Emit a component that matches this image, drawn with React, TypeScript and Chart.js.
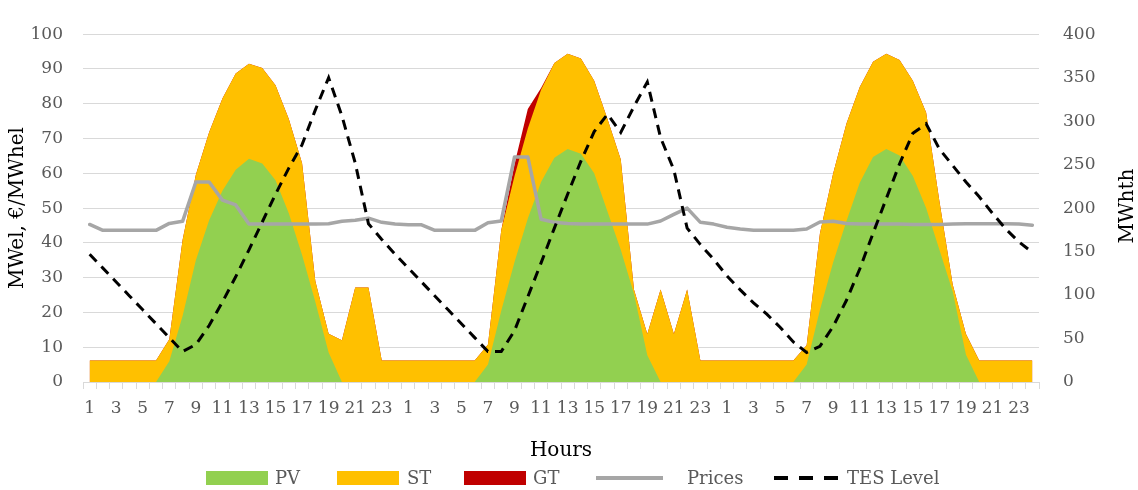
import React, { useEffect, useRef } from 'react';
import { Chart, registerables } from 'chart.js';

Chart.register(...registerables);

// ---- Data ----
const hourLabels = ['1', '2', '3', '4', '5', '6', '7', '8', '9', '10', '11', '12',
  '13', '14', '15', '16', '17', '18', '19', '20', '21', '22', '23', '24'];
const categories = [...hourLabels, ...hourLabels, ...hourLabels];

const pv = [
  0, 0, 0, 0, 0, 0, 6, 19, 35, 46.5, 55, 61, 64.2, 62.8, 58, 48.5, 36.5, 23, 8.5, 0, 0, 0, 0, 0,
  0, 0, 0, 0, 0, 0, 5, 20.5, 34.5, 47, 57.5, 64.5, 67, 65.6, 60, 49, 38, 25.3, 7.7, 0, 0, 0, 0, 0,
  0, 0, 0, 0, 0, 0, 5, 20.7, 34.4, 46.3, 57.3, 64.7, 67, 65.1, 59.2, 50, 38, 26, 7.8, 0, 0, 0, 0, 0,
];

const st = [
  6.2, 6.2, 6.2, 6.2, 6.2, 6.2, 6.3, 21.8, 24.6, 25.3, 26.5, 27.7, 27.3, 27.5, 27.3, 27.1, 26.4, 6, 5.4, 12, 27.2, 27.2, 6.2, 6.2,
  6.2, 6.2, 6.2, 6.2, 6.2, 6.2, 5.8, 23.1, 24.7, 25.9, 26.5, 27.2, 27.4, 27.4, 26.6, 26.6, 26, 1.2, 6.1, 26.6, 13.8, 26.6, 6.2, 6.2,
  6.2, 6.2, 6.2, 6.2, 6.2, 6.2, 5.6, 22, 25.6, 28, 27.5, 27.4, 27.4, 27.5, 27.4, 27.5, 14, 2, 6, 6.2, 6.2, 6.2, 6.2, 6.2,
];

const gt = [
  0, 0, 0, 0, 0, 0, 0, 0, 0, 0, 0, 0, 0, 0, 0, 0, 0, 0, 0, 0, 0, 0, 0, 0,
  0, 0, 0, 0, 0, 0, 0, 0, 3.5, 5.6, 0.5, 0, 0, 0, 0, 0, 0, 0, 0, 0, 0, 0, 0, 0,
  0, 0, 0, 0, 0, 0, 0, 0, 0, 0, 0, 0, 0, 0, 0, 0, 0, 0, 0, 0, 0, 0, 0, 0,
];

const prices = [
  45.3, 43.6, 43.6, 43.6, 43.6, 43.6, 45.6, 46.2, 57.5, 57.5, 52.3, 50.9, 45.4, 45.4, 45.4, 45.4, 45.4, 45.4, 45.5, 46.2, 46.5, 47.1, 45.9, 45.4,
  45.2, 45.2, 43.6, 43.6, 43.6, 43.6, 45.8, 46.3, 64.7, 64.7, 46.8, 45.9, 45.6, 45.4, 45.4, 45.4, 45.4, 45.4, 45.4, 46.3, 48.2, 50, 45.9, 45.4,
  44.5, 44, 43.6, 43.6, 43.6, 43.6, 44, 46, 46.2, 45.6, 45.4, 45.4, 45.4, 45.4, 45.3, 45.3, 45.3, 45.4, 45.5, 45.5, 45.5, 45.5, 45.4, 45.1,
];

const tesLevel = [
  147, 131, 115, 99, 83, 67, 51, 35, 43, 65, 92, 121, 152, 184, 216, 246, 273, 313, 350, 306, 252, 182, 164, 147,
  131, 115, 99, 83, 67, 51, 35, 35, 59, 98, 137, 177, 216, 254, 288, 308, 287, 317, 345, 281, 244, 177, 158, 141,
  122, 106, 91, 78, 63, 46, 34, 41, 64, 94, 130, 171, 211, 251, 286, 297, 268, 249, 230, 213, 194, 176, 161, 149,
];

const seriesNames = ['PV', 'ST', 'GT', 'Prices', 'TES Level'];
const seriesColors = ['#92D050', '#FFC000', '#C00000', '#A6A6A6', '#000000'];

const SERIF = '"DejaVu Serif", "Liberation Serif", serif';

const customLegend = {
  id: 'customLegend',
  afterDraw(chart: any) {
    const ctx = chart.ctx as CanvasRenderingContext2D;
    ctx.save();
    // legend
    const markerX = [206, 337, 464, 596, 774];
    const textX = [275, 407, 533, 687, 847];
    const cy = 478;
    ctx.font = `18px ${SERIF}`;
    ctx.textBaseline = 'middle';
    ctx.textAlign = 'left';
    seriesNames.forEach((name, i) => {
      const color = seriesColors[i];
      if (i < 3) {
        ctx.fillStyle = color;
        ctx.fillRect(markerX[i], cy - 7, 62, 14);
      } else {
        ctx.beginPath();
        ctx.strokeStyle = color;
        ctx.lineWidth = 4;
        ctx.lineCap = 'butt';
        ctx.setLineDash(i === 4 ? [14, 11] : []);
        ctx.moveTo(markerX[i], cy);
        ctx.lineTo(markerX[i] + (i === 4 ? 64 : 67), cy);
        ctx.stroke();
        ctx.setLineDash([]);
      }
      ctx.fillStyle = '#595959';
      ctx.fillText(name, textX[i], cy + 1);
    });
    // right axis title (reads bottom to top)
    ctx.translate(1128, 206);
    ctx.rotate(-Math.PI / 2);
    ctx.textAlign = 'center';
    ctx.fillStyle = '#000000';
    ctx.font = `20px ${SERIF}`;
    ctx.fillText('MWhth', 0, 0);
    ctx.restore();
  },
};

export default function App() {
  const ref = useRef<HTMLCanvasElement | null>(null);

  useEffect(() => {
    if (!ref.current) return;
    const chart = new Chart(ref.current, {
      type: 'line',
      data: {
        labels: categories,
        datasets: [
          {
            label: seriesNames[0], data: pv, yAxisID: 'y', stack: 'gen', order: 2,
            backgroundColor: seriesColors[0], borderWidth: 0, fill: 'origin', pointRadius: 0, tension: 0,
          },
          {
            label: seriesNames[1], data: st, yAxisID: 'y', stack: 'gen', order: 3,
            backgroundColor: seriesColors[1], borderWidth: 0, fill: 'origin', pointRadius: 0, tension: 0,
          },
          {
            label: seriesNames[2], data: gt, yAxisID: 'y', stack: 'gen', order: 4,
            backgroundColor: seriesColors[2], borderWidth: 0, fill: 'origin', pointRadius: 0, tension: 0,
          },
          {
            label: seriesNames[3], data: prices, yAxisID: 'y', stack: 'price', order: 1,
            borderColor: seriesColors[3], borderWidth: 3.5, fill: false, pointRadius: 0, tension: 0,
            borderJoinStyle: 'round', borderCapStyle: 'round',
          },
          {
            label: seriesNames[4], data: tesLevel, yAxisID: 'y1', order: 0,
            borderColor: seriesColors[4], borderWidth: 3, borderDash: [10, 7], fill: false, pointRadius: 0, tension: 0,
          },
        ],
      },
      options: {
        responsive: false,
        animation: false,
        devicePixelRatio: 1,
        layout: { padding: { top: 18, bottom: 27, left: 0, right: 0 } },
        plugins: {
          legend: { display: false },
          tooltip: { enabled: false },
        },
        scales: {
          x: {
            type: 'category',
            offset: true,
            grid: { drawOnChartArea: false, drawTicks: true, tickLength: 7, color: '#D9D9D9', offset: true },
            border: { color: '#D9D9D9' },
            ticks: {
              autoSkip: false, maxRotation: 0, minRotation: 0, padding: 9,
              color: '#595959', font: { family: SERIF, size: 17 },
              callback: (_v: any, idx: number) => (idx % 2 === 0 ? categories[idx] : ''),
            },
            title: { display: true, text: 'Hours', color: '#000000', font: { family: SERIF, size: 20 }, padding: 0 },
            afterFit: (s: any) => { s.height = 81; },
          },
          y: {
            position: 'left',
            stacked: true,
            min: 0, max: 100,
            grid: { color: '#D9D9D9', drawTicks: false },
            border: { display: false },
            ticks: { stepSize: 10, padding: 20, color: '#595959', font: { family: SERIF, size: 17 } },
            title: { display: true, text: 'MWel, €/MWhel', color: '#000000', font: { family: SERIF, size: 20 }, padding: { top: 6, bottom: 0 } },
            afterFit: (s: any) => { s.width = 83; },
          },
          y1: {
            position: 'right',
            min: 0, max: 400,
            grid: { drawOnChartArea: false, drawTicks: false },
            border: { display: false },
            ticks: { stepSize: 50, padding: 24, color: '#595959', font: { family: SERIF, size: 17 } },
            afterFit: (s: any) => { s.width = 99; },
          },
        },
      },
      plugins: [customLegend],
    });
    return () => chart.destroy();
  }, []);

  return (
    <div style={{ position: 'absolute', left: 0, top: 0, width: 1138, height: 490, background: '#ffffff' }}>
      <canvas ref={ref} width={1138} height={490} style={{ width: 1138, height: 490, display: 'block' }} />
    </div>
  );
}
